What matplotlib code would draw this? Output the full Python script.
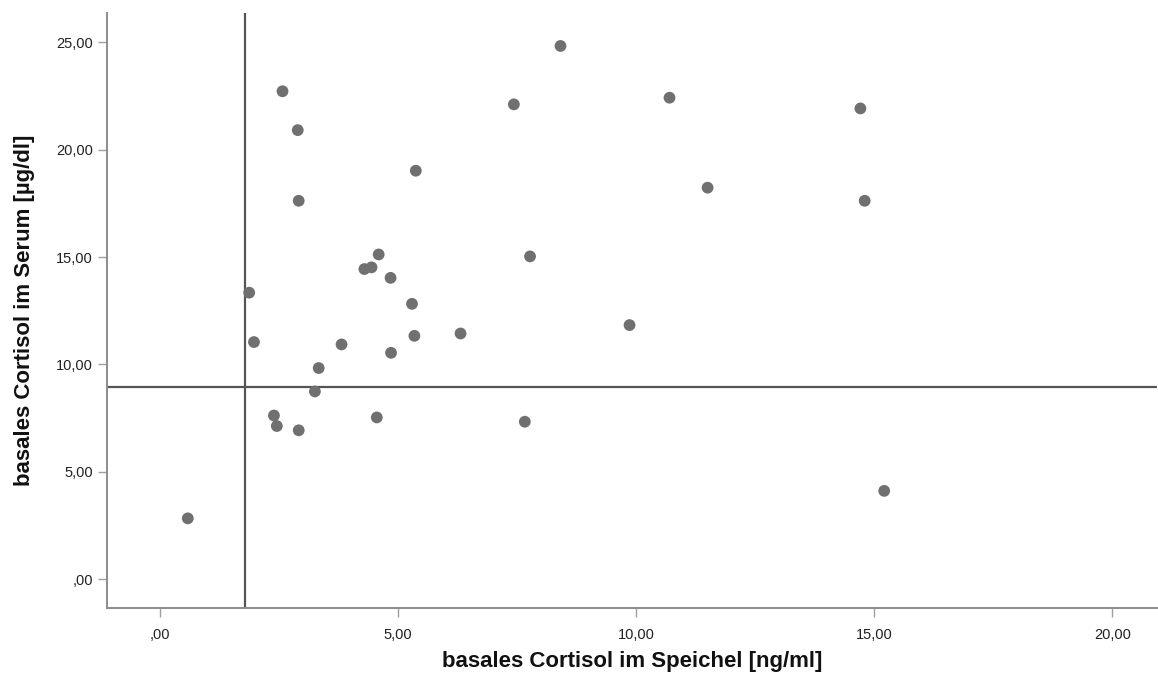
import matplotlib
matplotlib.use("Agg")
import matplotlib.pyplot as plt
from matplotlib.ticker import FuncFormatter

# basal cortisol, saliva [ng/ml] vs serum [ug/dl]
speichel = [0.58, 1.87, 1.97, 2.57, 2.89, 2.91, 2.39, 2.45, 2.91, 3.33, 3.25,
            3.81, 4.29, 4.44, 4.59, 4.55, 4.84, 4.85, 5.29, 5.34, 5.37, 6.31,
            7.43, 7.66, 7.77, 8.41, 9.86, 10.70, 11.50, 14.71, 14.80, 15.21]
serum = [2.83, 13.34, 11.04, 22.72, 20.91, 17.62, 7.62, 7.13, 6.93, 9.83, 8.74,
         10.93, 14.44, 14.52, 15.12, 7.53, 14.03, 10.54, 12.82, 11.33, 19.02, 11.44,
         22.11, 7.33, 15.03, 24.83, 11.83, 22.42, 18.23, 21.92, 17.62, 4.11]

# cut-off reference lines
cutoff_speichel = 1.78
cutoff_serum = 8.97

x_ticks = [0, 5, 10, 15, 20]
y_ticks = [0, 5, 10, 15, 20, 25]

x_label = "basales Cortisol im Speichel [ng/ml]"
y_label = "basales Cortisol im Serum [µg/dl]"


def comma_fmt(v, pos):
    """Format like SPSS: 2 decimals, comma, no leading zero for 0."""
    s = f"{v:.2f}".replace(".", ",")
    if s.startswith("0,"):
        s = s[1:]
    return s


plt.rcParams["font.family"] = ["Liberation Sans", "DejaVu Sans"]

fig = plt.figure(figsize=(11.58, 6.89), dpi=100)
ax = fig.add_axes([0.0927, 0.1171, 0.9064, 0.8645])

ax.axvline(cutoff_speichel, color="#555555", lw=1.6, zorder=1)
ax.axhline(cutoff_serum, color="#555555", lw=1.6, zorder=1)
ax.scatter(speichel, serum, s=72, color="#707070", edgecolors="none", zorder=3)

ax.set_xlim(-1.11, 20.94)
ax.set_ylim(-1.36, 26.38)
ax.set_xticks(x_ticks)
ax.set_yticks(y_ticks)
ax.xaxis.set_major_formatter(FuncFormatter(comma_fmt))
ax.yaxis.set_major_formatter(FuncFormatter(comma_fmt))

for side in ["top", "right"]:
    ax.spines[side].set_visible(False)
for side in ["left", "bottom"]:
    ax.spines[side].set_color("#8c8c8c")
    ax.spines[side].set_linewidth(1.4)

ax.tick_params(axis="both", length=6.5, width=1.0, color="#a0a0a0",
               labelsize=10.5, labelcolor="#222222")
ax.tick_params(axis="x", pad=8)
ax.tick_params(axis="y", pad=4)

ax.set_xlabel(x_label, fontsize=16, fontweight="bold", color="#111111", labelpad=6)
ax.set_ylabel(y_label, fontsize=16, fontweight="bold", color="#111111", labelpad=15)

fig.savefig("out.png", dpi=100)
